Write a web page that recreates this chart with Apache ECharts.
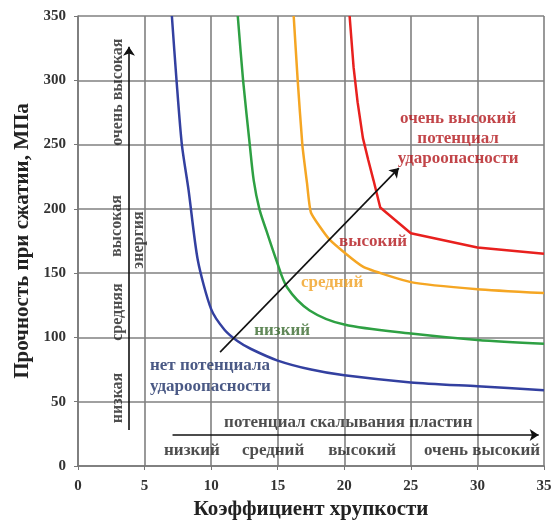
<!DOCTYPE html>
<html><head><meta charset="utf-8">
<script src="https://cdn.jsdelivr.net/npm/echarts@6/dist/echarts.min.js"></script>
<style>html,body{margin:0;padding:0;background:#fff}#c{width:552px;height:520px}</style>
</head><body><div id="c"></div>
<script>
// ---- data ----
const xTicks = [0, 5, 10, 15, 20, 25, 30, 35];
const yTicks = [0, 50, 100, 150, 200, 250, 300, 350];

const blueX = [7.05, 7.4, 7.8, 8.3, 9.0, 10.0, 11.0, 12.0, 13.0, 15.0, 17.5, 20, 25, 30, 35];
const blueY = [350, 300, 250, 215, 160, 122, 106, 97, 91, 82, 75, 70.5, 65, 62, 59];

const greenX = [12.0, 12.4, 12.9, 13.2, 13.62, 14.15, 14.9, 15.7, 17.4, 20, 25, 30, 35];
const greenY = [350, 300, 250, 222, 200, 183, 160, 139, 121, 110, 103, 98, 95];

const orangeX = [16.2, 16.5, 16.85, 17.2, 17.5, 18.9, 21.4, 25, 30, 35];
const orangeY = [350, 300, 250, 220, 197, 176, 155, 143, 137.5, 134.5];

const redX = [20.4, 20.7, 21.0, 21.4, 21.8, 22.2, 22.7, 25, 30, 35];
const redY = [350, 310, 283, 255, 238, 222, 201, 181, 170, 165];

const xName = 'Коэффициент хрупкости';
const yName = 'Прочность при сжатии, МПа';

const zip = (a, b) => a.map((v, i) => [v, b[i]]);
const FONT = '"Liberation Serif", "DejaVu Serif", serif';

function textPt(x, y, text, color, opts) {
  return { value: [x, y], label: Object.assign({
    show: true, formatter: text, color: color, fontFamily: FONT, fontWeight: 'bold', fontSize: 17,
    position: 'inside', lineHeight: 20 }, opts || {}) };
}

const chart = echarts.init(document.getElementById('c'), null, { renderer: 'canvas' });

const curveStyle = (color, smooth) => ({
  type: 'line', showSymbol: false, symbol: 'none', smooth: smooth,
  lineStyle: { color: color, width: 2.5 }, silent: true, z: 3
});

const axisCommon = {
  axisLine: { show: true, lineStyle: { color: '#777', width: 1.5 } },
  axisTick: { show: true, length: 4, lineStyle: { color: '#777' } },
  splitLine: { show: true, lineStyle: { color: '#808080', width: 1.6 } },
  nameTextStyle: { fontFamily: FONT, fontWeight: 'bold', fontSize: 21, color: '#222' }
};
const tickFont = { fontFamily: FONT, fontWeight: 'bold', fontSize: 15, color: '#333' };

const V = 16;

chart.setOption({
  animation: false,
  backgroundColor: '#ffffff',
  grid: { left: 78, right: 8, top: 16, bottom: 54, containLabel: false, outerBoundsMode: 'none' },
  xAxis: Object.assign({
    type: 'value', min: 0, max: 35, interval: 5,
    name: xName, nameLocation: 'middle', nameGap: 31,
    axisLabel: Object.assign({ margin: 13 }, tickFont)
  }, axisCommon),
  yAxis: Object.assign({
    type: 'value', min: 0, max: 350, interval: 50,
    name: yName, nameLocation: 'middle', nameGap: 44, nameRotate: 90,
    axisLabel: Object.assign({ margin: 12 }, tickFont)
  }, axisCommon),
  series: [
    Object.assign(curveStyle('#3340a0', 0.25), { data: zip(blueX, blueY) }),
    Object.assign(curveStyle('#2ea043', 0.3), { data: zip(greenX, greenY) }),
    Object.assign(curveStyle('#f5a623', 0.15), { data: zip(orangeX, orangeY) }),
    Object.assign(curveStyle('#e8201e', false), { data: zip(redX, redY) }),
    {
      type: 'lines', coordinateSystem: 'cartesian2d', silent: true, z: 4,
      symbol: ['none', 'arrow'], symbolSize: [6, 9],
      lineStyle: { color: '#111', width: 1.6, opacity: 1 },
      data: [
        { coords: [[3.83, 28], [3.83, 326]] },
        { coords: [[7.1, 24.1], [34.6, 24.1]] },
        { coords: [[10.67, 88.6], [24.1, 231.7]] }
      ]
    },
    {
      type: 'scatter', symbolSize: 0, silent: true, z: 5,
      data: [
        textPt(28.55, 255, 'очень высокий\nпотенциал\nудароопасности', '#b3161b'),
        textPt(22.16, 174.2, 'высокий', '#b3161b'),
        textPt(19.08, 142.3, 'средний', '#f0a020'),
        textPt(15.33, 105, 'низкий', '#3a6a2e'),
        textPt(5.41, 70, 'нет потенциала\nудароопасности', '#1d2f66', { position: 'right', distance: 0, align: 'left', lineHeight: 21 }),
        textPt(20.3, 34, 'потенциал скалывания пластин', '#222'),
        textPt(8.56, 11.7, 'низкий', '#222'),
        textPt(14.65, 11.7, 'средний', '#222'),
        textPt(21.34, 11.7, 'высокий', '#222'),
        textPt(30.35, 11.7, 'очень высокий', '#222'),
        textPt(3.0, 290.8, 'очень высокая', '#222', { rotate: 90, fontSize: V }),
        textPt(2.9, 186.6, 'высокая', '#222', { rotate: 90, fontSize: V }),
        textPt(3.0, 119.7, 'средняя', '#222', { rotate: 90, fontSize: V }),
        textPt(3.0, 52.9, 'низкая', '#222', { rotate: 90, fontSize: V }),
        textPt(4.6, 175.7, 'энергия', '#222', { rotate: 90, fontSize: V })
      ]
    }
  ]
});
</script></body></html>
